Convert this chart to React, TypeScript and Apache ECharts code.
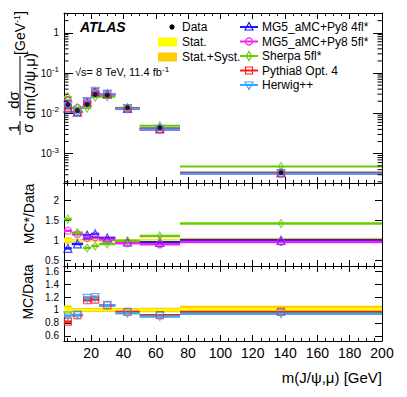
import React, { useEffect, useRef } from "react";
import * as echarts from "echarts";

// ---- data ----
const binEdges = [3.2, 8, 15, 20, 25, 35, 50, 75, 200];
const binCenters = [5.6, 11.5, 17.5, 22.5, 30, 42.5, 62.5, 137.5];
const dataXsec = [0.0167, 0.0118, 0.0167, 0.0294, 0.0283, 0.0138, 0.0044, 0.000337];
const statErr = [0.04, 0.015, 0.015, 0.015, 0.015, 0.015, 0.02, 0.035];
const totErr = [0.07, 0.03, 0.03, 0.03, 0.03, 0.03, 0.035, 0.065];

const mg4flXsec = [0.0134, 0.0107, 0.0189, 0.0341, 0.03, 0.0133, 0.0042, 0.000337];
const mg5flXsec = [0.0207, 0.0136, 0.0177, 0.0318, 0.0289, 0.0128, 0.004, 0.000323];
const sherpaXsec = [0.0256, 0.014, 0.0135, 0.0253, 0.0258, 0.0137, 0.0049, 0.000479];
const pythiaXsec = [0.0137, 0.0109, 0.0192, 0.0341, 0.0303, 0.0134, 0.004, 0.000327];
const herwigXsec = [0.0152, 0.0109, 0.0197, 0.035, 0.0303, 0.0131, 0.004, 0.000317];

const mg4flRatio = [0.8, 0.91, 1.13, 1.16, 1.06, 0.96, 0.95, 1.0];
const mg5flRatio = [1.24, 1.15, 1.06, 1.08, 1.02, 0.93, 0.9, 0.96];
const sherpaRatio = [1.53, 1.19, 0.81, 0.86, 0.91, 0.99, 1.11, 1.42];
const pythiaRatio = [0.82, 0.92, 1.15, 1.16, 1.07, 0.97, 0.92, 0.97];
const herwigRatio = [0.91, 0.92, 1.18, 1.19, 1.07, 0.95, 0.9, 0.94];

const legendNames = ["MG5_aMC+Py8 4fl*", "MG5_aMC+Py8 5fl*", "Sherpa 5fl*", "Pythia8 Opt. 4", "Herwig++"];
const dataLegend = ["Data", "Stat.", "Stat.+Syst."];

const X_MIN = 3.2;
const X_MAX = 200;
const Y_TOP_MIN = 1.87e-4;
const Y_TOP_MAX = 3.1;

const FONT = "'Liberation Sans', Arial, Helvetica, sans-serif";
const STAT_COLOR = "#ffff00";
const TOT_COLOR = "#ffcc00";

type Gen = {
  name: string;
  color: string;
  symbol: string;
  rotate: number;
  size: number | number[];
  xsec: number[];
  ratio: number[];
  panel: number;
};

const gens: Gen[] = [
  { name: legendNames[0], color: "#1a1aff", symbol: "triangle", rotate: 0, size: 8, xsec: mg4flXsec, ratio: mg4flRatio, panel: 1 },
  { name: legendNames[1], color: "#ee22ee", symbol: "circle", rotate: 0, size: 7, xsec: mg5flXsec, ratio: mg5flRatio, panel: 1 },
  { name: legendNames[2], color: "#66cc00", symbol: "diamond", rotate: 0, size: [5, 8], xsec: sherpaXsec, ratio: sherpaRatio, panel: 1 },
  { name: legendNames[3], color: "#ff1a1a", symbol: "rect", rotate: 0, size: 7, xsec: pythiaXsec, ratio: pythiaRatio, panel: 2 },
  { name: legendNames[4], color: "#33aaff", symbol: "triangle", rotate: 180, size: 8, xsec: herwigXsec, ratio: herwigRatio, panel: 2 },
];

const segRender = (color: string, width: number) => (params: any, api: any) => {
  const a = api.coord([api.value(0), api.value(2)]);
  const b = api.coord([api.value(1), api.value(2)]);
  return {
    type: "line",
    shape: { x1: a[0], y1: a[1], x2: b[0], y2: b[1] },
    style: { stroke: color, lineWidth: width },
  };
};

const bandRender = (color: string) => (params: any, api: any) => {
  const a = api.coord([api.value(0), api.value(3)]);
  const b = api.coord([api.value(1), api.value(2)]);
  return {
    type: "rect",
    shape: { x: a[0], y: a[1], width: b[0] - a[0], height: b[1] - a[1] },
    style: { fill: color },
  };
};

function segSeries(xi: number, yi: number, vals: number[], color: string, width: number, z: number) {
  return {
    type: "custom",
    xAxisIndex: xi,
    yAxisIndex: yi,
    z,
    silent: true,
    renderItem: segRender(color, width),
    encode: { x: [0, 1], y: 2 },
    data: vals.map((v, i) => [binEdges[i], binEdges[i + 1], v]),
  };
}

function bandSeries(xi: number, yi: number, lo: number[], hi: number[], color: string, z: number) {
  return {
    type: "custom",
    xAxisIndex: xi,
    yAxisIndex: yi,
    z,
    silent: true,
    renderItem: bandRender(color),
    encode: { x: [0, 1], y: [2, 3] },
    data: lo.map((v, i) => [binEdges[i], binEdges[i + 1], v, hi[i]]),
  };
}

function markerSeries(xi: number, yi: number, vals: number[], g: Gen, z: number) {
  return {
    type: "scatter",
    xAxisIndex: xi,
    yAxisIndex: yi,
    z,
    silent: true,
    symbol: g.symbol,
    symbolSize: g.size,
    symbolRotate: g.rotate,
    itemStyle: { color: "rgba(0,0,0,0)", borderColor: g.color, borderWidth: 1.2 },
    data: vals.map((v, i) => [binCenters[i], v]),
  };
}

function xAxis(grid: number, pos: string, labels: boolean) {
  return {
    type: "value",
    gridIndex: grid,
    position: pos,
    min: X_MIN,
    max: X_MAX,
    splitNumber: 10,
    axisLine: { show: true, onZero: false, lineStyle: { color: "#000", width: 1 } },
    axisTick: { show: true, inside: true, length: 6, lineStyle: { color: "#000", width: 1 } },
    minorTick: { show: true, splitNumber: 4, length: 3, lineStyle: { color: "#000", width: 1 } },
    axisLabel: {
      show: labels,
      showMinLabel: false,
      showMaxLabel: true,
      color: "#000",
      fontSize: 14,
      fontFamily: FONT,
      margin: 5,
    },
    splitLine: { show: false },
    minorSplitLine: { show: false },
  };
}

function yAxisLin(grid: number, pos: string, min: number, max: number, split: number, labels: boolean) {
  return {
    type: "value",
    gridIndex: grid,
    position: pos,
    min,
    max,
    splitNumber: split,
    axisLine: { show: true, onZero: false, lineStyle: { color: "#000", width: 1 } },
    axisTick: { show: true, inside: true, length: 7, lineStyle: { color: "#000", width: 1 } },
    axisLabel: {
      show: labels,
      showMinLabel: false,
      showMaxLabel: false,
      color: "#000",
      fontSize: 10,
      fontFamily: FONT,
      margin: 5,
    },
    splitLine: { show: false },
  };
}

function yAxisLog(grid: number, pos: string, labels: boolean) {
  return {
    type: "log",
    logBase: 10,
    gridIndex: grid,
    position: pos,
    min: Y_TOP_MIN,
    max: Y_TOP_MAX,
    splitNumber: 5,
    axisLine: { show: true, onZero: false, lineStyle: { color: "#000", width: 1 } },
    axisTick: { show: true, inside: true, length: 9, lineStyle: { color: "#000", width: 1 } },
    axisLabel: {
      show: labels,
      showMinLabel: false,
      showMaxLabel: false,
      color: "#000",
      fontSize: 10,
      fontFamily: FONT,
      margin: 5,
      formatter: (v: number) => {
        const l = Math.log10(v);
        const n = Math.round(l);
        if (Math.abs(l - n) > 1e-6) return "";
        return n === 0 ? "1" : `10{s|${n}}`;
      },
      rich: { s: { fontSize: 8, color: "#000", fontFamily: FONT, padding: [0, 0, 7, 0] } },
    },
    splitLine: { show: false },
  };
}

// minor tick values for the log axis (2..9 x 10^n)
const logMinorTicks: number[] = [];
for (let n = -4; n <= 0; n++) {
  for (let k = 2; k <= 9; k++) {
    const v = k * Math.pow(10, n);
    if (v > Y_TOP_MIN && v < Y_TOP_MAX) logMinorTicks.push(v);
  }
}

const App: React.FC = () => {
  const ref = useRef<HTMLDivElement>(null);
  useEffect(() => {
    if (!ref.current) return;
    const chart = echarts.init(ref.current, undefined, { renderer: "svg" });

    const series: any[] = [];
    // ---- top panel ----
    series.push(
      bandSeries(0, 0, dataXsec.map((v, i) => v * (1 - totErr[i])), dataXsec.map((v, i) => v * (1 + totErr[i])), TOT_COLOR, 1)
    );
    series.push(
      bandSeries(0, 0, dataXsec.map((v, i) => v * (1 - statErr[i])), dataXsec.map((v, i) => v * (1 + statErr[i])), STAT_COLOR, 2)
    );
    gens.forEach((g, k) => {
      series.push(segSeries(0, 0, g.xsec, g.color, 2, 3 + k));
    });
    gens.forEach((g, k) => {
      series.push(markerSeries(0, 0, g.xsec, g, 10 + k));
    });
    series.push({
      type: "scatter",
      xAxisIndex: 0,
      yAxisIndex: 0,
      z: 20,
      silent: true,
      symbol: "circle",
      symbolSize: 5,
      itemStyle: { color: "#000" },
      data: dataXsec.map((v, i) => [binCenters[i], v]),
    });
    // log minor ticks
    series.push({
      type: "custom",
      xAxisIndex: 0,
      yAxisIndex: 0,
      z: 30,
      silent: true,
      encode: { x: 0, y: 1 },
      data: logMinorTicks.map((v) => [X_MIN, v]),
      renderItem: (params: any, api: any) => {
        const l = api.coord([X_MIN, api.value(1)]);
        const r = api.coord([X_MAX, api.value(1)]);
        return {
          type: "group",
          children: [
            { type: "line", shape: { x1: l[0], y1: l[1], x2: l[0] + 4.5, y2: l[1] }, style: { stroke: "#000", lineWidth: 1 } },
            { type: "line", shape: { x1: r[0] - 4.5, y1: r[1], x2: r[0], y2: r[1] }, style: { stroke: "#000", lineWidth: 1 } },
          ],
        };
      },
    });

    // ---- ratio panels ----
    const ones = statErr.map(() => 1);
    [1, 2].forEach((p) => {
      const xi = p * 2;
      const yi = p * 2;
      series.push(bandSeries(xi, yi, ones.map((o, i) => o - totErr[i]), ones.map((o, i) => o + totErr[i]), TOT_COLOR, 1));
      series.push(bandSeries(xi, yi, ones.map((o, i) => o - statErr[i]), ones.map((o, i) => o + statErr[i]), STAT_COLOR, 2));
      gens
        .filter((g) => g.panel === p)
        .forEach((g, k) => {
          series.push(segSeries(xi, yi, g.ratio, g.color, 2.5, 3 + k));
          series.push(markerSeries(xi, yi, g.ratio, g, 10 + k));
        });
    });

    // ---- legend & texts ----
    const rowY = [27, 41.5, 56, 70.5, 85];
    const legendGraphics: any[] = [];
    gens.forEach((g, i) => {
      const cy = rowY[i];
      const cx = 249;
      legendGraphics.push({
        type: "line",
        shape: { x1: 240, y1: cy, x2: 258, y2: cy },
        style: { stroke: g.color, lineWidth: 2 },
      });
      let m: any;
      const st = { fill: "rgba(0,0,0,0)", stroke: g.color, lineWidth: 1.2 };
      if (g.symbol === "triangle" && g.rotate === 0)
        m = { type: "polygon", shape: { points: [[cx, cy - 4.5], [cx - 4, cy + 3], [cx + 4, cy + 3]] }, style: st };
      else if (g.symbol === "triangle")
        m = { type: "polygon", shape: { points: [[cx, cy + 4.5], [cx - 4, cy - 3], [cx + 4, cy - 3]] }, style: st };
      else if (g.symbol === "circle") m = { type: "circle", shape: { cx, cy, r: 3.5 }, style: st };
      else if (g.symbol === "diamond")
        m = { type: "polygon", shape: { points: [[cx, cy - 4.5], [cx + 2.8, cy], [cx, cy + 4.5], [cx - 2.8, cy]] }, style: st };
      else m = { type: "rect", shape: { x: cx - 3.5, y: cy - 3.5, width: 7, height: 7 }, style: st };
      legendGraphics.push(m);
      legendGraphics.push({
        type: "text",
        x: 262,
        y: cy,
        style: { text: g.name, fontSize: 12, fontFamily: FONT, fill: "#000", verticalAlign: "middle", align: "left" },
      });
    });
    legendGraphics.push({ type: "circle", shape: { cx: 172, cy: 27, r: 2.6 }, style: { fill: "#000" } });
    legendGraphics.push({ type: "rect", shape: { x: 158, y: 37.5, width: 19, height: 9 }, style: { fill: STAT_COLOR } });
    legendGraphics.push({ type: "rect", shape: { x: 158, y: 52.5, width: 19, height: 9 }, style: { fill: TOT_COLOR } });
    [27, 42, 57].forEach((y, i) => {
      legendGraphics.push({
        type: "text",
        x: 182,
        y,
        style: { text: dataLegend[i], fontSize: 12, fontFamily: FONT, fill: "#000", verticalAlign: "middle", align: "left" },
      });
    });

    const rot = Math.PI / 2;
    const txt = (x: number, y: number, text: string, size: number, extra: any = {}) => ({
      type: "text",
      x,
      y,
      rotation: extra.rotation ?? 0,
      style: {
        text,
        fontSize: size,
        fontFamily: FONT,
        fill: "#000",
        align: extra.align ?? "center",
        verticalAlign: "middle",
        fontWeight: extra.fontWeight,
        fontStyle: extra.fontStyle,
        rich: extra.rich,
      },
    });

    const texts: any[] = [
      txt(80, 27, "ATLAS", 14, { align: "left", fontWeight: "bold", fontStyle: "italic" }),
      txt(75, 72, "√s= 8 TeV, 11.4 fb{s|-1}", 11, {
        align: "left",
        rich: { s: { fontSize: 8, fontFamily: FONT, fill: "#000", color: "#000", padding: [0, 0, 6, 0] } },
      }),
      // top y title
      txt(13.5, 128, "1", 15, { rotation: rot }),
      txt(27, 128, "σ", 15, { rotation: rot }),
      { type: "line", shape: { x1: 20, y1: 121, x2: 20, y2: 135 }, style: { stroke: "#000", lineWidth: 1 } },
      txt(13.5, 100, "dσ", 15, { rotation: rot }),
      txt(29, 86, "dm(J/ψ,μ)", 15, { rotation: rot }),
      { type: "line", shape: { x1: 20, y1: 56, x2: 20, y2: 116 }, style: { stroke: "#000", lineWidth: 1 } },
      txt(20, 33, "[GeV{s|-1}]", 14, {
        rotation: rot,
        rich: { s: { fontSize: 9, fontFamily: FONT, color: "#000", padding: [0, 0, 7, 0] } },
      }),
      txt(29, 214, "MC*/Data", 14, { rotation: rot }),
      txt(28, 292, "MC/Data", 14, { rotation: rot }),
      txt(382, 377, "m(J/ψ,μ) [GeV]", 15, { align: "right" }),
    ];

    const option: any = {
      animation: false,
      backgroundColor: "#fff",
      textStyle: { fontFamily: FONT },
      grid: [
        { left: 64, top: 13, width: 318, height: 170, containLabel: false, outerBoundsMode: "none" },
        { left: 64, top: 183, width: 318, height: 83, containLabel: false, outerBoundsMode: "none" },
        { left: 64, top: 266, width: 318, height: 75, containLabel: false, outerBoundsMode: "none" },
      ],
      xAxis: [
        xAxis(0, "bottom", false),
        xAxis(0, "top", false),
        xAxis(1, "bottom", false),
        xAxis(1, "top", false),
        xAxis(2, "bottom", true),
        xAxis(2, "top", false),
      ],
      yAxis: [
        yAxisLog(0, "left", true),
        yAxisLog(0, "right", false),
        yAxisLin(1, "left", 0.36, 2.43, 4, true),
        yAxisLin(1, "right", 0.36, 2.43, 4, false),
        yAxisLin(2, "left", 0.52, 1.68, 6, true),
        yAxisLin(2, "right", 0.52, 1.68, 6, false),
      ],
      series,
      graphic: { elements: [...legendGraphics, ...texts] },
    };
    chart.setOption(option);
    return () => chart.dispose();
  }, []);
  return (
    <div
      ref={ref}
      style={{ position: "absolute", left: 0, top: 0, width: 407, height: 397, background: "#fff" }}
    />
  );
};

export default App;
